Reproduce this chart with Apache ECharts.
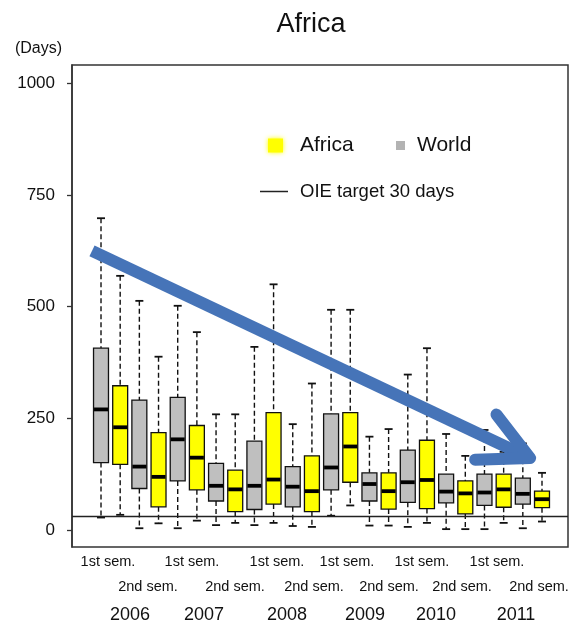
<!DOCTYPE html>
<html>
<head>
<meta charset="utf-8">
<script src="https://cdn.jsdelivr.net/npm/echarts@6/dist/echarts.min.js"></script>
<style>html,body{margin:0;padding:0;background:#fff;}#c{width:570px;height:631px;}</style>
</head>
<body>
<div id="c"></div>
<script>
// ---- data (days): [min, Q1, median, Q3, max] per semester, 2006-1 .. 2011-2
const semesters = ['2006 S1','2006 S2','2007 S1','2007 S2','2008 S1','2008 S2','2009 S1','2009 S2','2010 S1','2010 S2','2011 S1','2011 S2'];
const worldBoxes = [
  [28, 151, 270, 407, 698],
  [4, 93, 142, 291, 513],
  [4, 110, 203, 297, 502],
  [11, 65, 99, 149, 259],
  [11, 46, 99, 199, 410],
  [9, 52, 97, 142, 237],
  [32, 90, 140, 260, 493],
  [10, 65, 103, 128, 209],
  [7, 62, 107, 179, 348],
  [2, 61, 86, 125, 215],
  [2, 55, 84, 125, 224],
  [4, 58, 81, 116, 194]
];
const africaBoxes = [
  [34, 147, 230, 323, 569],
  [15, 52, 119, 218, 388],
  [21, 90, 162, 234, 443],
  [16, 41, 91, 134, 259],
  [16, 58, 113, 263, 550],
  [7, 41, 87, 166, 328],
  [55, 107, 187, 263, 493],
  [10, 47, 87, 128, 226],
  [16, 48, 112, 201, 407],
  [2, 36, 82, 110, 166],
  [16, 51, 91, 125, 175],
  [19, 50, 69, 87, 128]
];
const targetDays = 30;
const yTicks = [0, 250, 500, 750, 1000];
const firstSemLabels = ['1st sem.','1st sem.','1st sem.','1st sem.','1st sem.','1st sem.'];
const secondSemLabels = ['2nd sem.','2nd sem.','2nd sem.','2nd sem.','2nd sem.','2nd sem.'];
const yearLabels = ['2006','2007','2008','2009','2010','2011'];
// trend arrow annotation in axis units [box index, days]
const trendStart = [-0.47, 625];
const trendEnd = [22.38, 161];

// ---- layout (pixel positions of bottom label rows)
const firstSemX = [108, 192, 277, 347, 422, 497];
const secondSemX = [148, 235, 314, 389, 462, 539];
const yearX = [130, 204, 287, 365, 436, 516];
const FONT = '"Liberation Sans", Arial, sans-serif';

const chart = echarts.init(document.getElementById('c'));

function renderBox(params, api) {
  const x = api.value(0);
  const pMin = api.coord([x, api.value(1)]);
  const pQ1 = api.coord([x, api.value(2)]);
  const pMed = api.coord([x, api.value(3)]);
  const pQ3 = api.coord([x, api.value(4)]);
  const pMax = api.coord([x, api.value(5)]);
  const bw = api.size([1, 0])[0] * 0.78;
  const cap = 8;
  const cx = pMed[0];
  const fill = api.visual('color');
  const dash = {stroke: '#111', lineWidth: 1.4, lineDash: [5, 3]};
  const capStyle = {stroke: '#111', lineWidth: 1.8};
  return {
    type: 'group',
    children: [
      {type: 'line', shape: {x1: cx, y1: pMax[1], x2: cx, y2: pQ3[1]}, style: dash},
      {type: 'line', shape: {x1: cx, y1: pQ1[1], x2: cx, y2: pMin[1]}, style: dash},
      {type: 'line', shape: {x1: cx - cap / 2, y1: pMax[1], x2: cx + cap / 2, y2: pMax[1]}, style: capStyle},
      {type: 'line', shape: {x1: cx - cap / 2, y1: pMin[1], x2: cx + cap / 2, y2: pMin[1]}, style: capStyle},
      {type: 'rect', shape: {x: cx - bw / 2, y: pQ3[1], width: bw, height: pQ1[1] - pQ3[1]},
        style: {fill: fill, stroke: '#111', lineWidth: 1.3}},
      {type: 'line', shape: {x1: cx - bw / 2 + 0.5, y1: pMed[1], x2: cx + bw / 2 - 0.5, y2: pMed[1]},
        style: {stroke: '#000', lineWidth: 3.8}}
    ]
  };
}

function renderArrow(params, api) {
  const p0 = api.coord([api.value(0), api.value(1)]);
  const p1 = api.coord([api.value(2), api.value(3)]);
  const ang = Math.atan2(p0[1] - p1[1], p0[0] - p1[0]);
  const len = 55, spread = 27 * Math.PI / 180;
  const a1 = [p1[0] + len * Math.cos(ang + spread), p1[1] + len * Math.sin(ang + spread)];
  const a2 = [p1[0] + len * Math.cos(ang - spread), p1[1] + len * Math.sin(ang - spread)];
  const shaftEnd = [p1[0] + 5 * Math.cos(ang), p1[1] + 5 * Math.sin(ang)];
  const col = '#4674b8';
  return {
    type: 'group',
    children: [
      {type: 'line', shape: {x1: p0[0], y1: p0[1], x2: shaftEnd[0], y2: shaftEnd[1]},
        style: {stroke: col, lineWidth: 12, lineCap: 'butt'}},
      {type: 'polyline', shape: {points: [a1, p1, a2]},
        style: {stroke: col, lineWidth: 12, fill: null, lineCap: 'round', lineJoin: 'round'}}
    ]
  };
}

const labelGraphics = [];
function addRow(labels, xs, y, size) {
  labels.forEach((t, i) => {
    labelGraphics.push({
      type: 'text', x: xs[i], y: y, silent: true,
      style: {text: t, align: 'center', verticalAlign: 'middle', fill: '#111', font: size + 'px ' + FONT}
    });
  });
}
addRow(firstSemLabels, firstSemX, 562, 14.5);
addRow(secondSemLabels, secondSemX, 587, 14.5);
addRow(yearLabels, yearX, 615, 18);

const option = {
  backgroundColor: '#fff',
  animation: false,
  title: {
    text: 'Africa', left: 311, top: 11, textAlign: 'center', padding: 0,
    textStyle: {fontSize: 27, fontWeight: 'normal', color: '#111', fontFamily: FONT}
  },
  legend: [
    {data: [{name: 'Africa', icon: 'rect', itemStyle: {color: '#ffff00', borderWidth: 0, shadowBlur: 5, shadowColor: '#ffff00'}}],
      left: 268, top: 135, padding: 0, itemWidth: 15, itemHeight: 14,
      textStyle: {fontSize: 21, color: '#111', fontFamily: FONT, padding: [0, 0, 0, 12]}},
    {data: [{name: 'World', icon: 'rect', itemStyle: {color: '#b3b3b3', borderWidth: 0}}],
      left: 396, top: 135, padding: 0, itemWidth: 9, itemHeight: 9,
      textStyle: {fontSize: 21, color: '#111', fontFamily: FONT, padding: [0, 0, 0, 7]}},
    {data: [{name: 'OIE target 30 days', icon: 'rect', itemStyle: {color: '#222', borderWidth: 0}}],
      left: 260, top: 182, padding: 0, itemWidth: 28, itemHeight: 1.5,
      textStyle: {fontSize: 18.5, color: '#111', fontFamily: FONT, padding: [0, 0, 0, 7]}}
  ],
  grid: {left: 72, right: 2, top: 65, bottom: 84, show: true, borderColor: '#333', borderWidth: 1.5, backgroundColor: 'transparent'},
  xAxis: {type: 'value', min: -1.513, max: 24.356, show: false},
  yAxis: {
    type: 'value', min: -38, max: 1041,
    name: '(Days)', nameLocation: 'end', nameGap: 8,
    nameTextStyle: {fontSize: 16, color: '#111', fontFamily: FONT, align: 'right', padding: [0, 10, 0, 0]},
    axisLine: {show: true, onZero: false, lineStyle: {color: '#333', width: 1.5}},
    axisTick: {show: true, length: 5, inside: false, customValues: yTicks, lineStyle: {color: '#333', width: 1.3}},
    axisLabel: {customValues: yTicks, fontSize: 17, color: '#111', fontFamily: FONT, margin: 17,
      formatter: v => String(v)},
    splitLine: {show: false}
  },
  series: [
    {
      name: 'World', type: 'custom', renderItem: renderBox,
      itemStyle: {color: '#bfbfbf'},
      encode: {x: 0, y: [1, 2, 3, 4, 5]},
      data: worldBoxes.map((d, i) => [2 * i].concat(d)),
      z: 3
    },
    {
      name: 'Africa', type: 'custom', renderItem: renderBox,
      itemStyle: {color: '#ffff00'},
      encode: {x: 0, y: [1, 2, 3, 4, 5]},
      data: africaBoxes.map((d, i) => [2 * i + 1].concat(d)),
      z: 3
    },
    {
      name: 'OIE target 30 days', type: 'line', data: [], symbol: 'none',
      lineStyle: {color: '#222', width: 1.4},
      itemStyle: {color: '#222'},
      markLine: {
        silent: true, symbol: 'none', label: {show: false},
        lineStyle: {color: '#222', width: 1.4, type: 'solid'},
        data: [{yAxis: targetDays}]
      },
      z: 2
    },
    {
      name: 'trend', type: 'custom', renderItem: renderArrow, silent: true,
      encode: {x: [0, 2], y: [1, 3]},
      data: [trendStart.concat(trendEnd)],
      clip: false, z: 10
    }
  ],
  graphic: labelGraphics
};
chart.setOption(option);
</script>
</body>
</html>
